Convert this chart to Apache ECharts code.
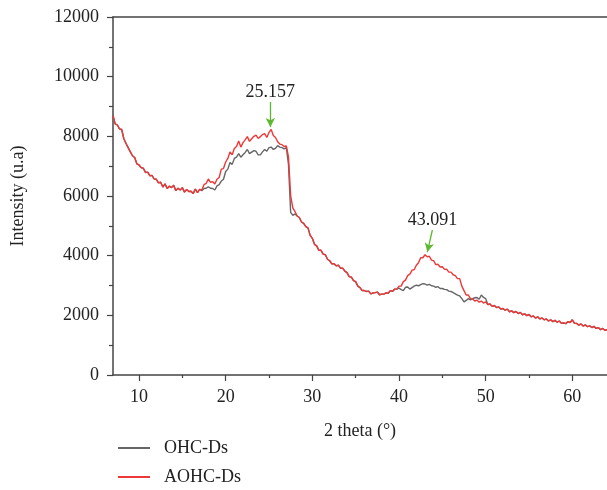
<!DOCTYPE html>
<html><head><meta charset="utf-8">
<script src="https://cdn.jsdelivr.net/npm/echarts@6/dist/echarts.min.js"></script>
<style>html,body{margin:0;padding:0;background:#fff}#c{width:607px;height:490px}</style>
</head><body><div id="c"></div>
<script>
const thetaStart = 7, thetaStep = 0.25;
const aohc = [
8700,8420,8380,8250, 8230,7920,7760,7620, 7480,7350,7290,7080, 7040,6950,6930,6790,
6800,6680,6690,6570, 6560,6440,6460,6300, 6410,6250,6330,6280, 6360,6180,6260,6200,
6280,6130,6220,6150, 6160,6080,6230,6110, 6220,6200,6380,6420, 6570,6460,6480,6400,
6560,6620,6900,6920, 7140,7260,7480,7380, 7590,7660,7840,7640, 7790,7880,7990,7830,
7920,8000,8040,7930, 7990,8060,8090,7960, 8130,8230,8030,7960, 7820,7740,7720,7660,
7680,7300,6000,5600, 5480,5330,5280,5130, 5080,4970,4930,4680, 4580,4380,4330,4180,
4180,4050,4030,3880, 3830,3730,3730,3660, 3680,3580,3580,3480, 3430,3300,3280,3160,
3130,2980,2930,2830, 2830,2800,2810,2720, 2750,2760,2780,2690, 2710,2710,2750,2740,
2830,2800,2880,2880, 2980,2980,3130,3180, 3330,3380,3510,3530, 3680,3760,3930,3930,
4030,3960,3980,3850, 3830,3700,3710,3620, 3630,3540,3550,3450, 3450,3360,3330,3230,
3230,2980,2830,2680, 2680,2560,2550,2480, 2510,2440,2480,2410, 2450,2360,2380,2300,
2330,2260,2280,2210, 2230,2170,2210,2120, 2150,2090,2130,2060, 2100,2020,2050,1990,
2030,1950,1980,1910, 1950,1880,1910,1850, 1880,1810,1850,1790, 1830,1770,1810,1730,
1750,1720,1790,1760, 1850,1730,1730,1670, 1710,1640,1680,1620, 1650,1590,1630,1560,
1590,1520,1560,1500, 1520];
const ohc = [
8700,8420,8380,8250, 8230,7920,7760,7620, 7480,7350,7290,7080, 7040,6950,6930,6790,
6800,6680,6690,6570, 6560,6440,6460,6300, 6410,6250,6330,6280, 6360,6180,6260,6200,
6280,6130,6220,6150, 6160,6080,6230,6110, 6220,6180,6250,6260, 6310,6260,6250,6200,
6340,6380,6500,6560, 6820,6900,7120,7060, 7260,7300,7420,7300, 7380,7460,7560,7420,
7470,7520,7500,7380, 7380,7480,7560,7500, 7620,7640,7560,7600, 7690,7640,7620,7580,
7620,7050,5450,5350, 5400,5330,5280,5130, 5080,4970,4930,4680, 4580,4380,4330,4180,
4180,4050,4030,3880, 3830,3730,3730,3660, 3680,3580,3580,3480, 3430,3300,3280,3160,
3130,2980,2930,2830, 2830,2800,2810,2720, 2750,2760,2780,2690, 2710,2710,2750,2740,
2830,2800,2880,2880, 2910,2860,2830,2940, 2950,2880,2930,2980, 3010,2990,3030,3060,
3050,3010,3040,2990, 2980,2940,2960,2900, 2900,2870,2860,2810, 2800,2760,2720,2680,
2650,2560,2450,2500, 2560,2520,2560,2590, 2600,2540,2680,2600, 2560,2360,2380,2300,
2330,2260,2280,2210, 2230,2170,2210,2120, 2150,2090,2130,2060, 2100,2020,2050,1990,
2030,1950,1980,1910, 1950,1880,1910,1850, 1880,1810,1850,1790, 1830,1770,1810,1730,
1750,1720,1790,1760, 1850,1730,1730,1670, 1710,1640,1680,1620, 1650,1590,1630,1560,
1590,1520,1560,1500, 1520];
const xMajorTicks = [10,20,30,40,50,60];
const xMinorTicks = [15,25,35,45,55];
const seriesNames = ['OHC-Ds','AOHC-Ds'];
const peakLabels = ['25.157','43.091'];

const font = 'Liberation Serif';
const axisCol = '#444';
const txtCol = '#222';
const grayCol = '#666', redCol = '#ec3838';
const chart = echarts.init(document.getElementById('c'));
const pairs = arr => arr.map((v,i)=>[thetaStart + i*thetaStep, v]);
const legendCommon = {orient:'vertical',left:113,itemWidth:32,itemHeight:2,icon:'rect',
  textStyle:{fontFamily:font,fontSize:18,color:txtCol,padding:[0,0,0,9]}};
chart.setOption({
  animation:false,
  grid:{left:113,right:0,top:17,bottom:115},
  legend:[Object.assign({top:434,data:[seriesNames[0]]},legendCommon),
          Object.assign({top:463,data:[seriesNames[1]]},legendCommon)],
  xAxis:[{type:'value',min:7,max:64,
    name:'2 theta (°)',nameLocation:'middle',nameGap:47,
    nameTextStyle:{fontFamily:font,fontSize:18,color:txtCol},
    axisLine:{lineStyle:{color:axisCol,width:1.5}},
    axisTick:{length:6,lineStyle:{color:axisCol,width:1.2},customValues:xMajorTicks},
    axisLabel:{fontFamily:font,fontSize:18,color:txtCol,margin:13,customValues:xMajorTicks},
    splitLine:{show:false}},
   {type:'value',position:'bottom',min:7,max:64,axisLine:{show:false},
    axisTick:{show:true,length:3,lineStyle:{color:axisCol,width:1.2},customValues:xMinorTicks},
    axisLabel:{show:false},splitLine:{show:false}},
   {type:'value',position:'top',min:7,max:64,axisLine:{show:true,lineStyle:{color:axisCol,width:1.5}},axisTick:{show:false},axisLabel:{show:false},splitLine:{show:false}}],
  yAxis:{type:'value',min:0,max:12000,interval:2000,
    name:'Intensity (u.a)',nameLocation:'middle',nameGap:86,
    nameTextStyle:{fontFamily:font,fontSize:18,color:txtCol},
    axisLine:{show:true,lineStyle:{color:axisCol,width:1.5}},
    axisTick:{show:true,length:6,lineStyle:{color:axisCol,width:1.2}},
    minorTick:{show:true,splitNumber:2,length:4,lineStyle:{color:axisCol,width:1.2}},
    axisLabel:{fontFamily:font,fontSize:18,color:txtCol,margin:14,formatter:v=>String(v)},
    splitLine:{show:false}},
  series:[
    {name:seriesNames[0],type:'line',data:pairs(ohc),symbol:'none',lineStyle:{color:grayCol,width:1.4},itemStyle:{color:grayCol}},
    {name:seriesNames[1],type:'line',data:pairs(aohc),symbol:'none',lineStyle:{color:redCol,width:1.4},itemStyle:{color:redCol},
     markLine:{silent:true,symbol:['none','arrow'],symbolSize:[7,9],
       lineStyle:{color:'#5cb82e',width:1.3,type:'solid'},
       label:{show:true,position:'start',fontFamily:font,fontSize:18,color:txtCol,distance:1},
       data:[
         [{coord:[25.157,9150],label:{formatter:peakLabels[0]}},{coord:[25.157,8310]}],
         [{coord:[43.85,4860],label:{formatter:peakLabels[1]}},{coord:[43.27,4120]}]
       ]}}
  ]
});
</script></body></html>
